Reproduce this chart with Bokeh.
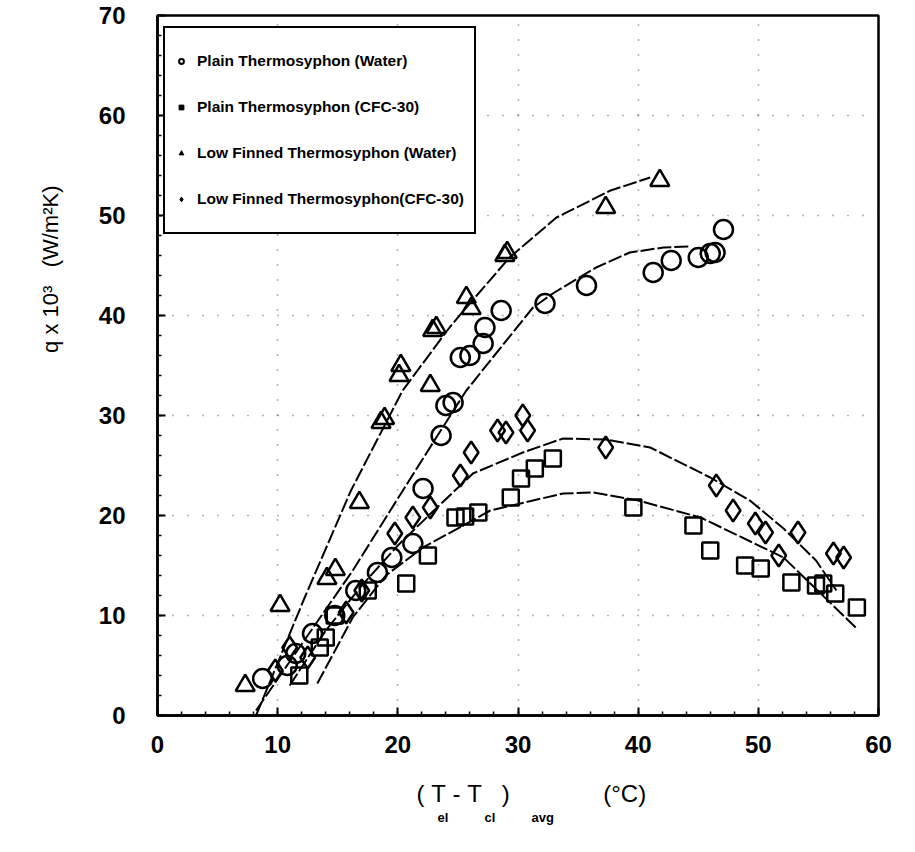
from bokeh.plotting import figure
from bokeh.models import Range1d, Legend, LegendItem, SingleIntervalTicker, Title
from bokeh.embed import file_html
from bokeh.resources import INLINE

# ---------------- data ----------------
# Plain Thermosyphon (Water) - circles
pw_t = [8.75, 10.8, 11.5, 12.9, 14.75, 16.5, 18.3, 19.5, 21.25, 22.1, 23.6, 24.0, 24.6,
        25.2, 26.0, 27.1, 27.25, 28.6, 32.25, 35.7, 41.25, 42.75, 45.0, 46.0, 46.4, 47.1]
pw_q = [3.7, 5.0, 6.2, 8.2, 10.0, 12.5, 14.3, 15.8, 17.2, 22.7, 28.0, 31.0, 31.3,
        35.8, 36.0, 37.2, 38.8, 40.5, 41.2, 43.0, 44.3, 45.5, 45.8, 46.2, 46.3, 48.6]

# Plain Thermosyphon (CFC-30) - squares
pc_t = [11.8, 13.5, 14.0, 14.75, 17.5, 20.7, 22.5, 24.8, 25.6, 26.7, 29.4, 30.25, 31.4,
        32.9, 39.6, 44.6, 46.0, 48.9, 50.2, 52.75, 54.8, 55.4, 56.4, 58.2]
pc_q = [4.0, 6.8, 7.8, 10.0, 12.5, 13.2, 16.0, 19.8, 19.9, 20.3, 21.8, 23.7, 24.7,
        25.7, 20.8, 19.0, 16.5, 15.0, 14.7, 13.3, 13.0, 13.2, 12.2, 10.8]

# Low Finned Thermosyphon (Water) - triangles
fw_t = [7.3, 10.2, 14.1, 14.8, 16.8, 18.6, 18.9, 20.1, 20.25, 22.7, 22.9, 23.2, 25.7,
        26.1, 28.9, 29.1, 37.3, 41.8]
fw_q = [3.0, 11.0, 13.7, 14.6, 21.3, 29.3, 29.7, 34.0, 35.0, 33.0, 38.5, 38.8, 41.8,
        40.7, 46.0, 46.3, 50.8, 53.5]

# Low Finned Thermosyphon (CFC-30) - diamonds
fc_t = [9.8, 11.0, 12.5, 15.7, 17.0, 19.75, 21.25, 22.7, 25.2, 26.1, 28.3, 29.0, 30.4,
        30.8, 37.3, 46.5, 47.9, 49.75, 50.6, 51.7, 53.3, 56.25, 57.1]
fc_q = [4.5, 6.8, 5.8, 10.3, 12.5, 18.2, 19.8, 20.8, 24.0, 26.3, 28.5, 28.3, 30.0,
        28.5, 26.8, 23.0, 20.5, 19.2, 18.3, 16.0, 18.3, 16.2, 15.8]

# fitted curves
cw_t = [8.2, 12.5, 16.25, 20.0, 23.2, 25.7, 27.9, 31.25, 32.9, 36.5, 39.3, 42.1, 44.3]
cw_q = [0.5, 8.0, 14.5, 21.7, 27.8, 32.5, 35.8, 40.8, 42.2, 44.8, 46.3, 46.8, 46.9]

cfw_t = [8.2, 12.25, 16.1, 20.4, 24.3, 25.7, 29.3, 33.2, 37.7, 41.0]
cfw_q = [0.0, 11.8, 22.5, 32.5, 38.8, 40.8, 45.8, 49.8, 52.5, 53.8]

cfc_t = [11.0, 14.0, 17.0, 20.0, 23.0, 26.25, 30.4, 33.75, 37.3, 41.0, 46.0, 49.3, 52.1, 54.8, 56.5]
cfc_q = [3.0, 8.5, 13.0, 17.0, 20.5, 24.2, 26.3, 27.7, 27.6, 26.8, 23.8, 21.5, 18.7, 15.5, 12.5]

cpc_t = [13.3, 16.25, 19.0, 22.1, 27.7, 33.75, 36.25, 40.0, 45.2, 52.1, 58.1]
cpc_q = [3.2, 9.8, 14.0, 16.8, 20.5, 22.2, 22.3, 21.5, 19.8, 15.8, 8.8]

x_ticks_step = 10
y_ticks_step = 10

legend_labels = ["Plain Thermosyphon (Water)", "Plain Thermosyphon (CFC-30)",
                 "Low Finned Thermosyphon (Water)", "Low Finned Thermosyphon(CFC-30)"]

NB = "\u00a0"
y_title = "q x 10³" + NB * 3 + "(W/m²K)"
x_title_main = NB * 4 + "(" + NB + "T" + NB + "-" + NB + "T" + NB * 3 + ")" + NB * 14 + "(°C)"
x_title_subs = "el" + NB * 10 + "cl" + NB * 10 + "avg"

# ---------------- figure ----------------
p = figure(width=908, height=850, output_backend="svg", toolbar_location=None,
           x_range=Range1d(0, 60), y_range=Range1d(0, 70),
           min_border_left=157, min_border_right=30, min_border_top=15, min_border_bottom=135)

p.background_fill_color = "white"
p.border_fill_color = "white"
p.outline_line_color = "black"
p.outline_line_width = 2.5

p.xaxis.ticker = SingleIntervalTicker(interval=x_ticks_step, num_minor_ticks=5)
p.yaxis.ticker = SingleIntervalTicker(interval=y_ticks_step, num_minor_ticks=5)
for ax in (p.xaxis, p.yaxis):
    ax.axis_line_width = 2.5
    ax.axis_line_color = "black"
    ax.major_tick_in = 8
    ax.major_tick_out = 0
    ax.minor_tick_in = 4
    ax.minor_tick_out = 0
    ax.major_tick_line_width = 2
    ax.minor_tick_line_width = 1.5
    ax.major_label_text_font = "Liberation Sans"
    ax.major_label_text_font_size = "24px"
    ax.major_label_text_font_style = "bold"
    ax.major_label_text_color = "black"
p.yaxis.major_label_standoff = 32
p.xaxis.major_label_standoff = 20

# x axis title main line as the axis label
p.xaxis.axis_label = x_title_main
p.xaxis.axis_label_standoff = 24
p.xaxis.axis_label_text_font = "Liberation Sans"
p.xaxis.axis_label_text_font_size = "24px"
p.xaxis.axis_label_text_font_style = "normal"
p.xaxis.axis_label_text_color = "black"

p.grid.grid_line_color = "black"
p.grid.grid_line_alpha = 0.6
p.grid.grid_line_width = 1.5
p.grid.grid_line_dash = "1 14"
p.grid.ticker = SingleIntervalTicker(interval=10)

# curves
for tx, qy in ((cw_t, cw_q), (cfw_t, cfw_q), (cfc_t, cfc_q), (cpc_t, cpc_q)):
    p.line(tx, qy, line_color="black", line_width=2, line_dash="14 3")

# markers
p.scatter(pw_t, pw_q, marker="circle", size=19, fill_color=None, line_color="black", line_width=2.5)
p.scatter(pc_t, pc_q, marker="square", size=16, fill_color=None, line_color="black", line_width=2.5)
p.scatter(fw_t, fw_q, marker="triangle", size=19, fill_color=None, line_color="black", line_width=2.5)
p.scatter(fc_t, fc_q, marker="diamond", size=22, fill_color=None, line_color="black", line_width=2.5)

# legend glyphs (as in the key: one open circle, three small filled marks); no visible points
nan = float("nan")
lg1 = p.scatter([nan], [nan], marker="circle", size=16, fill_color=None, line_color="black", line_width=2)
lg2 = p.scatter([nan], [nan], marker="square", size=7, fill_color="black", line_color="black")
lg3 = p.scatter([nan], [nan], marker="triangle", size=9, fill_color="black", line_color="black")
lg4 = p.scatter([nan], [nan], marker="diamond", size=11, fill_color="black", line_color="black")

legend = Legend(items=[LegendItem(label=legend_labels[i], renderers=[r])
                       for i, r in enumerate((lg1, lg2, lg3, lg4))],
                location=(6, 481))
legend.border_line_color = "black"
legend.border_line_alpha = 1.0
legend.border_line_width = 2.5
legend.background_fill_color = "white"
legend.background_fill_alpha = 1.0
legend.label_text_font = "Liberation Sans"
legend.label_text_font_style = "bold"
legend.label_text_font_size = "15.5px"
legend.label_text_color = "black"
legend.padding = 10
legend.spacing = 0
legend.label_height = 46
legend.glyph_height = 20
legend.glyph_width = 12
legend.label_standoff = 10
legend.margin = 0
p.add_layout(legend)

# y axis title (side panel)
p.add_layout(Title(text=y_title, align="right", offset=170, standoff=65,
                   text_font="Liberation Sans", text_font_size="22px",
                   text_font_style="normal", text_color="black"), "left")

# subscripts under the x axis title
p.add_layout(Title(text=x_title_subs, align="left", offset=280, standoff=0,
                   vertical_align="top",
                   text_font="Liberation Sans", text_font_size="13px",
                   text_font_style="bold", text_color="black"), "below")

open("out.html", "w").write(file_html(p, INLINE))
